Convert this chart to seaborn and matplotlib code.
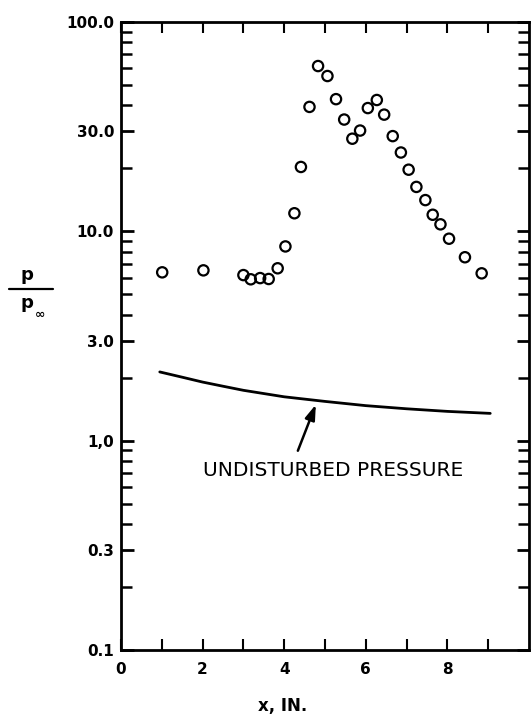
import numpy as np
import pandas as pd
import seaborn as sns
import matplotlib.pyplot as plt
from matplotlib.ticker import FixedLocator, LogLocator, NullFormatter
from matplotlib.lines import Line2D

# measured pressure ratio p/p_inf along the surface
x_meas = [1.01, 2.02, 3.00, 3.18, 3.41, 3.62, 3.84, 4.03, 4.25, 4.41,
          4.62, 4.83, 5.06, 5.27, 5.47, 5.67, 5.86, 6.05, 6.27, 6.45,
          6.66, 6.86, 7.05, 7.24, 7.46, 7.64, 7.83, 8.04, 8.43, 8.84]
p_meas = [6.37, 6.51, 6.18, 5.90, 5.98, 5.92, 6.66, 8.47, 12.2, 20.3,
          39.3, 61.6, 55.2, 42.8, 34.2, 27.7, 30.3, 38.8, 42.4, 36.1,
          28.5, 23.8, 19.7, 16.3, 14.1, 12.0, 10.8, 9.22, 7.52, 6.30]

# undisturbed pressure curve
x_und = [0.95, 1.5, 2.0, 2.5, 3.0, 4.0, 5.0, 6.0, 7.0, 8.0, 9.05]
p_und = [2.13, 2.01, 1.905, 1.82, 1.74, 1.62, 1.54, 1.47, 1.42, 1.38, 1.35]

y_ticks = [0.1, 0.3, 1.0, 3.0, 10.0, 30.0, 100.0]
y_ticklabels = ["0.1", "0.3", "1,0", "3.0", "10.0", "30.0", "100.0"]
x_ticks = list(range(0, 10))
x_ticklabels = ["0", "", "2", "", "4", "", "6", "", "8", ""]

sns.set_style("white")
plt.rcParams["font.family"] = ["DejaVu Sans"]
plt.rcParams["text.color"] = "black"
plt.rcParams["xtick.color"] = "black"
plt.rcParams["ytick.color"] = "black"
plt.rcParams["axes.labelcolor"] = "black"

meas = pd.DataFrame({"x": x_meas, "p": p_meas})
und = pd.DataFrame({"x": x_und, "p": p_und})

fig = plt.figure(figsize=(5.32, 7.19), dpi=100)
ax = fig.add_axes([121 / 532, 69 / 719, 408 / 532, 628 / 719])

sns.lineplot(data=und, x="x", y="p", ax=ax, color="black", linewidth=2.0,
             sort=True, estimator=None)
sns.scatterplot(data=meas, x="x", y="p", ax=ax, marker="o", s=55,
                facecolors="none", edgecolor="black", linewidth=1.6)

ax.set_yscale("log")
ax.set_xlim(0, 10)
ax.set_ylim(0.1, 100)

ax.yaxis.set_major_locator(FixedLocator(y_ticks))
ax.set_yticklabels(y_ticklabels)
ax.yaxis.set_minor_locator(LogLocator(base=10, subs=np.arange(2, 10)))
ax.yaxis.set_minor_formatter(NullFormatter())
ax.set_xticks(x_ticks)
ax.set_xticklabels(x_ticklabels)

ax.tick_params(axis="both", which="both", direction="in",
               top=True, right=True, left=True, bottom=True,
               colors="black")
ax.tick_params(axis="y", which="major", length=9, width=2, pad=5,
               labelsize=11)
ax.tick_params(axis="y", which="minor", length=8, width=1.8)
ax.tick_params(axis="x", which="major", length=8, width=1.5, pad=9,
               labelsize=11)
for lab in ax.get_xticklabels() + ax.get_yticklabels():
    lab.set_fontweight("bold")

for sp in ax.spines.values():
    sp.set_linewidth(2)
    sp.set_color("black")

ax.set_xlabel("")
ax.set_ylabel("")

# annotation with arrow pointing at the curve
ax.annotate("", xy=(4.80, 1.53), xytext=(4.31, 0.87),
            arrowprops=dict(arrowstyle="-|>,head_length=0.9,head_width=0.3",
                            color="black", lw=1.8))
ax.text(5.2, 0.72, "UNDISTURBED PRESSURE", ha="center", va="center",
        fontsize=14.5)

# axis titles
fig.text(283 / 532, 1 - 706 / 719, "x, IN.", ha="center", va="center",
         fontsize=12, fontweight="bold")
fig.text(27 / 532, 1 - 275 / 719, "p", ha="center", va="center",
         fontsize=13, fontweight="bold")
fig.add_artist(Line2D([9 / 532, 53 / 532], [1 - 289 / 719, 1 - 289 / 719],
                      color="black", linewidth=1.6))
fig.text(27 / 532, 1 - 303 / 719, "p", ha="center", va="center",
         fontsize=13, fontweight="bold")
fig.text(40 / 532, 1 - 314 / 719, "\u221e", ha="center", va="center",
         fontsize=9, fontweight="bold")

fig.savefig("out.png", dpi=100)
